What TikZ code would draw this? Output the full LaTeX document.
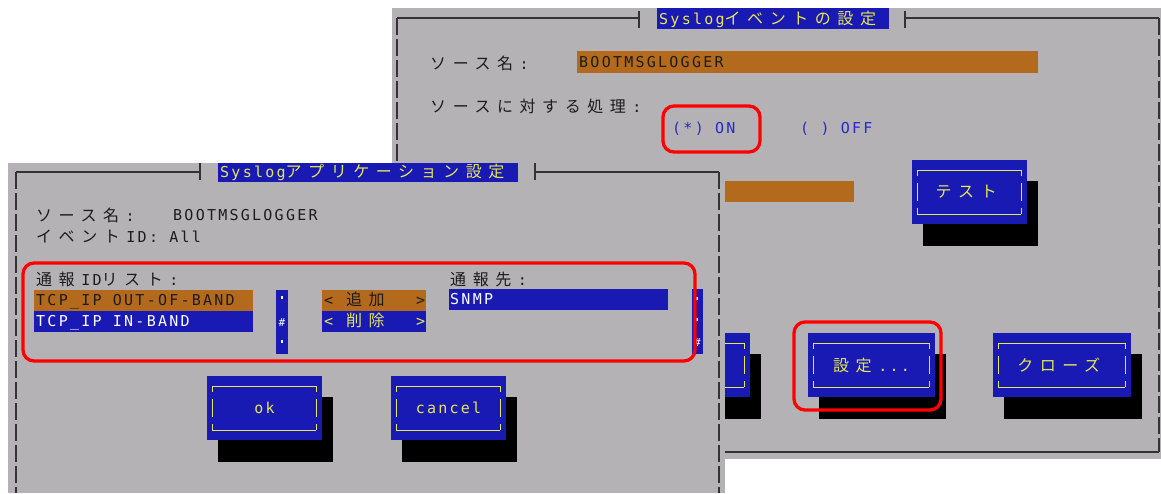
\documentclass[tikz,border=0pt]{standalone}
\usepackage{fontspec}
\usepackage{xcolor}
\usepackage{tikz}

\newfontfamily\termfont[LetterSpace=15]{DejaVu Sans Mono}
\newfontfamily\termjp[LetterSpace=41]{Noto Sans CJK JP}
\newcommand{\jp}[1]{{\termjp\fontsize{16}{18}\selectfont #1\kern6.6pt}}

\definecolor{scrgray}{RGB}{180,178,181}
\definecolor{scrblue}{RGB}{25,25,180}
\definecolor{scrorange}{RGB}{180,106,28}
\definecolor{scryellow}{RGB}{232,232,84}
\definecolor{scrink}{RGB}{28,28,28}
\definecolor{radioblue}{RGB}{40,40,200}

\tikzset{
  term/.style={font={\termfont\fontsize{15}{17}\selectfont}, inner sep=0pt, anchor=base west, text=scrink},
  btntext/.style={font={\termfont\fontsize{15}{17}\selectfont}, inner sep=0pt, text=scryellow},
  frameline/.style={draw=black!80, line width=1.3pt},
  dashline/.style={frameline, dash pattern=on 17pt off 4pt},
  hilite/.style={draw=red, line width=3.3pt, rounded corners=11pt},
}

% button with shadow: name, left, top, width, label
\newcommand{\tuibutton}[5]{%
  \begin{scope}[shift={(#2,#3)}]
    \fill[black] (11,21) rectangle (#4+11,86);
    \fill[scrblue] (0,0) rectangle (#4,64);
    \draw[scryellow, line width=1pt] (5,10) -- (#4-6,10) (5,54) -- (#4-6,54);
    \draw[scryellow, line width=1pt, dash pattern=on 6pt off 7pt on 18pt off 7pt on 6pt]
      (5,10) -- (5,54) (#4-6,10) -- (#4-6,54);
    \node[btntext] (#1) at (#4/2,32) {#5};
  \end{scope}}

\begin{document}
\begin{tikzpicture}[x=1pt, y=-1pt]
  \useasboundingbox (0,0) rectangle (1161,493);
  \clip (0,0) rectangle (1161,493);

  % Syslog event dialog (behind)
  \fill[scrgray] (392,8) rectangle (1161,459);
  \draw[frameline] (397,18) -- (639,18) (639,11) -- (639,28);
  \draw[frameline] (905,11) -- (905,28) (905,18) -- (1159,18);
  \draw[dashline] (397,18) -- (397,452);
  \draw[dashline] (1159,18) -- (1159,452);
  \draw[frameline] (397,452) -- (1159,452);
  \fill[scrblue] (657,8) rectangle (889,29);
  \node[term, text=scryellow] (evtitle) at (659,24) {Syslog\jp{イベントの設定}};

  \node[term] (evsrclbl) at (430,69) {\jp{ソース名}:};
  \fill[scrorange] (577,51) rectangle (1038,73);
  \node[term] (evsrc) at (579,67) {BOOTMSGLOGGER};
  \node[term] (evproc) at (430,112) {\jp{ソースに対する処理}:};
  \node[term, text=radioblue] (radon) at (672,133) {(*) ON};
  \node[term, text=radioblue] (radoff) at (800,133) {( ) OFF};
  \fill[scrorange] (577,181) rectangle (854,202);

  \tuibutton{btntest}{912}{160}{115}{\jp{テスト}}
  \tuibutton{btnhidden}{623}{333}{127}{}
  \tuibutton{btnset}{808}{333}{127}{\jp{設定}...}
  \tuibutton{btnclose}{993}{333}{138}{\jp{クローズ}}

  % Syslog application dialog (front)
  \fill[scrgray] (8,163) rectangle (725,493);
  \draw[frameline] (16,172) -- (200,172) (200,163) -- (200,180);
  \draw[frameline] (535,163) -- (535,180) (535,172) -- (719,172);
  \draw[dashline] (16,172) -- (16,493);
  \draw[dashline] (719,172) -- (719,493);
  \fill[scrblue] (218,163) rectangle (518,182);
  \node[term, text=scryellow] (aptitle) at (220,177) {Syslog\jp{アプリケーション設定}};

  \node[term] (apsrclbl) at (36,221) {\jp{ソース名}:};
  \node[term] (apsrc) at (173,220) {BOOTMSGLOGGER};
  \node[term] (apevent) at (36,242) {\jp{イベント}ID: All};

  % left list
  \node[term] (idlistlbl) at (36,285) {\jp{通報}ID\jp{リスト}:};
  \fill[scrorange] (34,290) rectangle (253,311);
  \node[term] (idout) at (36,305) {TCP\_IP OUT-OF-BAND};
  \fill[scrblue] (34,311) rectangle (253,332);
  \node[term, text=white] (idin) at (36,326) {TCP\_IP IN-BAND};
  \fill[scrblue] (276,290) rectangle (288,354);
  \fill[white] (281,296) rectangle (283,299);
  \node[btntext, text=white, font={\termfont\fontsize{11}{12}\selectfont}] (lthumb) at (282,323) {\#};
  \fill[white] (281,340) rectangle (283,343);

  % add / remove
  \fill[scrorange] (322,290) rectangle (426,311);
  \node[term] (addl) at (324,305) {<};
  \node[term] (addtxt) at (346,305) {\jp{追加}};
  \node[term] (addr) at (416,305) {>};
  \fill[scrblue] (322,311) rectangle (426,332);
  \node[term, text=scryellow] (dell) at (324,326) {<};
  \node[term, text=scryellow] (deltxt) at (346,326) {\jp{削除}};
  \node[term, text=scryellow] (delr) at (416,326) {>};

  % right list
  \node[term] (destlbl) at (450,285) {\jp{通報先}:};
  \fill[scrblue] (449,289) rectangle (668,310);
  \node[term, text=white] (destsnmp) at (450,304) {SNMP};
  \fill[scrblue] (692,289) rectangle (703,354);
  \fill[white] (696,297) rectangle (698,300);
  \fill[white] (696,318) rectangle (698,321);
  \node[btntext, text=white, font={\termfont\fontsize{11}{12}\selectfont}] (rthumb) at (697.5,343) {\#};

  \tuibutton{btnok}{207}{376}{115}{ok}
  \tuibutton{btncancel}{391}{376}{115}{cancel}

  % red marks
  \draw[hilite] (663,106) rectangle (760,152);
  \draw[hilite] (794,322) rectangle (941,410);
  \draw[hilite] (23,263) rectangle (695,361);
\end{tikzpicture}
\end{document}
